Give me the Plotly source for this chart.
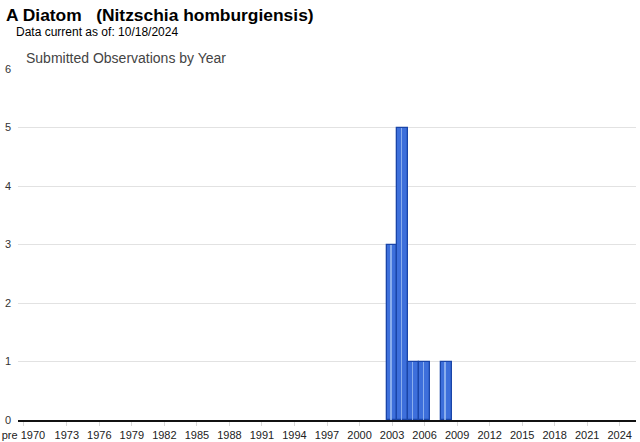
import plotly.graph_objects as go

# ---- data ----
categories = ["pre 1970"] + [str(y) for y in range(1970, 2026)]
obs_years = ["2003", "2004", "2005", "2006", "2008"]
obs_counts = [3, 5, 1, 1, 1]
tick_labels = ["pre 1970"] + [str(y) for y in range(1973, 2025, 3)]

title_text = "A Diatom\u00a0\u00a0\u00a0(Nitzschia homburgiensis)"
subtitle_text = "Data current as of: 10/18/2024"
chart_title = "Submitted Observations by Year"

# ---- derived ----
idx = {c: i for i, c in enumerate(categories)}
xs = [idx[y] for y in obs_years]
tickvals = [idx["pre 1970"]] + [idx[t] for t in tick_labels[1:]]

W, H = 640, 442
L, R, T, B = 18, 4, 69, 22
pw = W - L - R
ph = H - T - B

def px2paper_x(px):
    return (px - L) / pw

def px2paper_y(py):
    return (H - B - py) / ph

fig = go.Figure()
fig.add_trace(go.Bar(
    x=xs, y=obs_counts, width=1.0,
    marker=dict(color="#3d6fdb", line=dict(color="#1a45a8", width=1.3)),
    hoverinfo="x+y", showlegend=False,
))
# light highlight stripe inside each bar
fig.add_trace(go.Bar(
    x=[x - 0.12 for x in xs], y=obs_counts, width=0.14,
    marker=dict(color="rgba(170,200,245,0.7)", line=dict(width=0)),
    hoverinfo="skip", showlegend=False,
))

fig.update_layout(
    width=W, height=H,
    margin=dict(l=L, r=R, t=T, b=B, pad=0, autoexpand=False),
    paper_bgcolor="white", plot_bgcolor="white",
    barmode="overlay", bargap=0,
    font=dict(family="Arial, Liberation Sans, sans-serif", size=11, color="#222"),
    xaxis=dict(
        range=[-0.5, len(categories) - 0.5],
        tickmode="array", tickvals=tickvals, ticktext=tick_labels,
        ticks="outside", ticklen=4, tickcolor="#d8d8d8", tickwidth=1,
        showgrid=False, showline=True, linecolor="#111", linewidth=2,
        zeroline=False, tickfont=dict(size=11, color="#222"),
        automargin=False, fixedrange=True,
    ),
    yaxis=dict(
        range=[0, 6], tickvals=[0, 1, 2, 3, 4, 5, 6],
        showgrid=True, gridcolor="#e2e2e2", gridwidth=1,
        zeroline=False, showline=False, ticks="",
        ticklabelstandoff=6,
        tickfont=dict(size=11, color="#333"),
        automargin=False, fixedrange=True,
    ),
    annotations=[
        dict(text="<b>" + title_text + "</b>", xref="paper", yref="paper",
             x=px2paper_x(4), y=px2paper_y(15), xanchor="left", yanchor="middle",
             showarrow=False, font=dict(size=17.4, color="#000",
             family="Arial, Liberation Sans, sans-serif")),
        dict(text=subtitle_text, xref="paper", yref="paper",
             x=px2paper_x(14), y=px2paper_y(32), xanchor="left", yanchor="middle",
             showarrow=False, font=dict(size=12, color="#000",
             family="Arial, Liberation Sans, sans-serif")),
        dict(text=chart_title, xref="paper", yref="paper",
             x=px2paper_x(24), y=px2paper_y(58), xanchor="left", yanchor="middle",
             showarrow=False, font=dict(size=14, color="#444",
             family="Arial, Liberation Sans, sans-serif")),
    ],
)

fig.write_html(
    "out.html",
    config={"displayModeBar": False},
    post_script="document.body.style.margin='0';document.body.style.overflow='hidden';",
)
